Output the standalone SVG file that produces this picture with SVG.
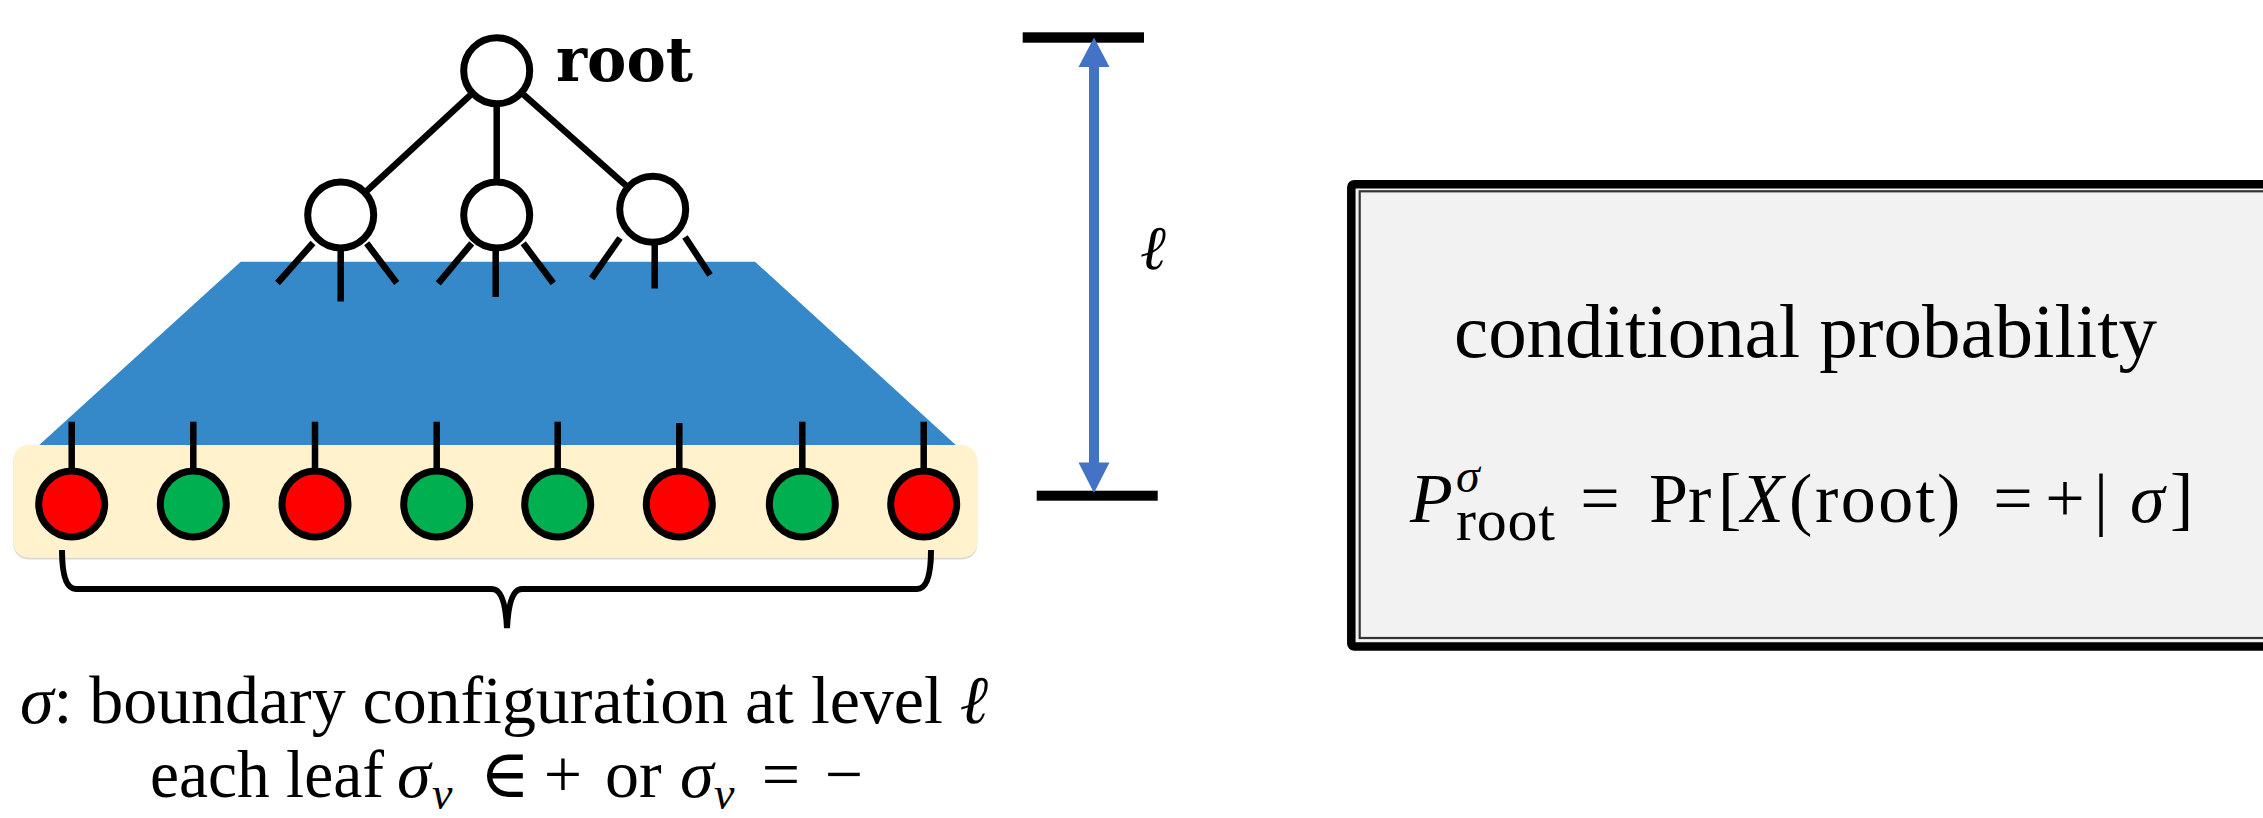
<svg xmlns="http://www.w3.org/2000/svg" width="2263" height="818" viewBox="0 0 2263 818">
<style>
.node{stroke:#000;stroke-width:7}
.tw{fill:#fff}
.red{fill:#ff0000}
.grn{fill:#00b050}
.edge{stroke:#000;stroke-width:6.5;fill:none}
.serif{font-family:"Liberation Serif","DejaVu Serif",serif;fill:#000}
.it{font-style:italic}
.mid{text-anchor:middle}
</style>
<rect width="2263" height="818" fill="#fff"/>

<g id="subtree">
<polygon points="240.7,261.7 755,261.7 958,447 37,447" fill="#3589c9"/>
</g>

<g id="boundary">
<rect x="13.3" y="446.5" width="964" height="113" rx="15" fill="#d9d9d9"/>
<rect x="13.3" y="445" width="964" height="112.7" rx="15" fill="#fff2cc"/>
</g>

<g id="connectors">
<line class="edge" x1="470.3" y1="95.1" x2="367.1" y2="190.6"/>
<line class="edge" x1="496.7" y1="104" x2="496.7" y2="181"/>
<line class="edge" x1="523.6" y1="94.6" x2="625.8" y2="185.4"/>
<line class="edge" x1="313" y1="243" x2="277.5" y2="283"/>
<line class="edge" x1="340.7" y1="250" x2="340.7" y2="301.5"/>
<line class="edge" x1="366.7" y1="243.3" x2="396.7" y2="283"/>
<line class="edge" x1="471.7" y1="243.3" x2="438.3" y2="283.3"/>
<line class="edge" x1="495.7" y1="250" x2="495.7" y2="297"/>
<line class="edge" x1="523.3" y1="243.3" x2="553.3" y2="283.3"/>
<line class="edge" x1="620" y1="238" x2="591.7" y2="278.3"/>
<line class="edge" x1="654.7" y1="244" x2="654.7" y2="288.5"/>
<line class="edge" x1="685" y1="237" x2="710" y2="275"/>
<line class="edge" x1="71.7" y1="421.7" x2="71.7" y2="470"/>
<line class="edge" x1="193.3" y1="421.7" x2="193.3" y2="470"/>
<line class="edge" x1="315" y1="421.7" x2="315" y2="470"/>
<line class="edge" x1="436.7" y1="421.7" x2="436.7" y2="470"/>
<line class="edge" x1="557.7" y1="421.7" x2="557.7" y2="470"/>
<line class="edge" x1="679.3" y1="423" x2="679.3" y2="470"/>
<line class="edge" x1="802.3" y1="421.7" x2="802.3" y2="470"/>
<line class="edge" x1="923.7" y1="421.7" x2="923.7" y2="470"/>
</g>

<g id="root"><circle class="node tw" cx="496.7" cy="70.7" r="33"/>
<text x="556" y="81" font-size="62" font-weight="bold" font-family="DejaVu Serif, serif" textLength="137" lengthAdjust="spacingAndGlyphs">root</text></g>
<g id="child1"><circle class="node tw" cx="340.7" cy="215" r="33"/></g>
<g id="child2"><circle class="node tw" cx="496.7" cy="215" r="33"/></g>
<g id="child3"><circle class="node tw" cx="652.7" cy="209.3" r="33"/></g>

<g id="leaf1"><circle class="node red" cx="71.7" cy="504" r="33"/></g>
<g id="leaf2"><circle class="node grn" cx="193.3" cy="504" r="33"/></g>
<g id="leaf3"><circle class="node red" cx="315" cy="504" r="33"/></g>
<g id="leaf4"><circle class="node grn" cx="436.7" cy="504" r="33"/></g>
<g id="leaf5"><circle class="node grn" cx="557.7" cy="504" r="33"/></g>
<g id="leaf6"><circle class="node red" cx="679.3" cy="504" r="33"/></g>
<g id="leaf7"><circle class="node grn" cx="802.3" cy="504" r="33"/></g>
<g id="leaf8"><circle class="node red" cx="923.7" cy="504" r="33"/></g>

<g id="brace">
<path d="M62,550 Q62,589 76,589 L492,589 Q505,589 507,628 Q509,589 522,589 L917,589 Q931,589 931,550" fill="none" stroke="#000" stroke-width="6"/>
</g>

<g id="caption">
<text class="serif" x="20" y="723" font-size="68" textLength="968" lengthAdjust="spacing"><tspan class="it">σ</tspan>: boundary configuration at level <tspan class="it">ℓ</tspan></text>
<text class="serif" x="150" y="797" font-size="68" textLength="234" lengthAdjust="spacingAndGlyphs">each leaf</text>
<text class="serif it" x="397" y="797" font-size="68">σ</text>
<text class="serif it" x="432" y="809" font-size="46">v</text>
<text class="serif mid" x="505" y="797" font-size="68">∈</text>
<text class="serif mid" x="563" y="797" font-size="68">+</text>
<text class="serif" x="605" y="797" font-size="68">or</text>
<text class="serif it" x="680" y="797" font-size="68">σ</text>
<text class="serif it" x="714" y="809" font-size="46">v</text>
<text class="serif mid" x="781" y="797" font-size="68">=</text>
<text class="serif mid" x="844" y="797" font-size="68">−</text>
</g>

<g id="level">
<rect x="1022.7" y="32.3" width="121.3" height="10.4" fill="#000"/>
<rect x="1036.7" y="490.7" width="121" height="10" fill="#000"/>
<line x1="1094" y1="65" x2="1094" y2="465" stroke="#4472c4" stroke-width="10"/>
<polygon points="1094,37.5 1109.5,67 1078.5,67" fill="#4472c4"/>
<polygon points="1094,493 1109.5,462.5 1078.5,462.5" fill="#4472c4"/>
<text class="serif it" x="1140" y="269" font-size="62">ℓ</text>
</g>

<g id="probbox">
<rect x="1351.3" y="184.2" width="1000" height="462.3" rx="3" fill="#f2f2f2" stroke="#000" stroke-width="8.5"/>
<rect x="1359.7" y="191.3" width="1000" height="446.7" fill="none" stroke="#333" stroke-width="2.2"/>
<text class="serif" x="1454" y="357" font-size="77" textLength="703" lengthAdjust="spacing">conditional probability</text>
<text class="serif it" x="1410" y="522" font-size="70">P</text>
<text class="serif it" x="1456" y="492" font-size="48">σ</text>
<text class="serif" x="1456" y="540" font-size="60" textLength="99" lengthAdjust="spacing">root</text>
<text class="serif mid" x="1600" y="522" font-size="70">=</text>
<text class="serif" x="1649" y="522" font-size="70">Pr</text>
<text class="serif" x="1718" y="522" font-size="70">[</text>
<text class="serif it" x="1741" y="522" font-size="70">X</text>
<text class="serif" x="1789" y="522" font-size="70">(</text>
<text class="serif" x="1815" y="522" font-size="70" textLength="120" lengthAdjust="spacing">root</text>
<text class="serif" x="1937" y="522" font-size="70">)</text>
<text class="serif mid" x="2013" y="522" font-size="70">=</text>
<text class="serif mid" x="2065" y="522" font-size="70">+</text>
<text class="serif mid" x="2101" y="522" font-size="70">|</text>
<text class="serif it" x="2130" y="522" font-size="70">σ</text>
<text class="serif" x="2170" y="522" font-size="70">]</text>
</g>
</svg>
